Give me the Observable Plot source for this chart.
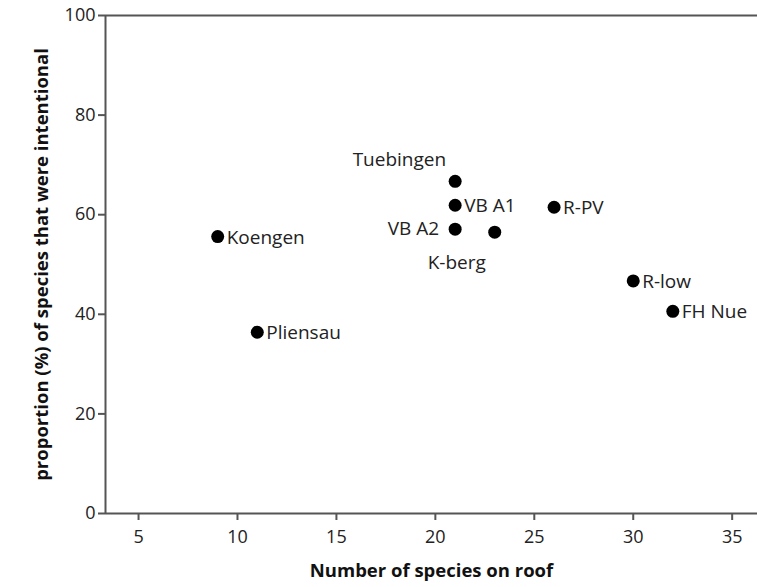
<!DOCTYPE html>
<html>
<head>
<meta charset="utf-8">
<script src="https://cdn.jsdelivr.net/npm/d3@7"></script>
<script src="https://cdn.jsdelivr.net/npm/@observablehq/plot@0.6"></script>
<style>
  html, body { margin: 0; padding: 0; background: #fff; }
  #chart svg { display: block; }
</style>
</head>
<body>
<div id="chart"></div>
<script>
const sites = ["Koengen", "Pliensau", "Tuebingen", "VB A1", "VB A2", "K-berg", "R-PV", "R-low", "FH Nue"];
const speciesCount = [9, 11, 21, 21, 21, 23, 26, 30, 32];
const proportionIntentional = [55.6, 36.4, 66.7, 61.9, 57.1, 56.5, 61.5, 46.7, 40.6];
const xTicks = [5, 10, 15, 20, 25, 30, 35];
const yTicks = [0, 20, 40, 60, 80, 100];

const data = sites.map((s, i) => ({site: s, x: speciesCount[i], y: proportionIntentional[i]}));
const rightLabels = ["Koengen", "Pliensau", "VB A1", "R-PV", "R-low", "FH Nue"];

const font = "'Open Sans', 'DejaVu Sans', sans-serif";
const axisColor = "#555";
const labelSize = 19;

const chart = Plot.plot({
  width: 757,
  height: 587,
  marginLeft: 105,
  marginRight: 0,
  marginTop: 15,
  marginBottom: 74,
  style: {fontFamily: font, fontSize: "18px", color: "#222", background: "#fff"},
  x: {domain: [3.33, 36.28], ticks: xTicks, label: null},
  y: {domain: [0, 100], ticks: yTicks, label: null},
  marks: [
    Plot.ruleY([0, 100], {stroke: axisColor, strokeWidth: 2}),
    Plot.ruleX([3.33], {stroke: axisColor, strokeWidth: 2}),
    Plot.axisX({ticks: xTicks, tickSize: 7, tickPadding: 10, stroke: axisColor, strokeWidth: 2, fontSize: 18, label: null}),
    Plot.axisY({ticks: yTicks, tickSize: 7, tickPadding: 3, stroke: axisColor, strokeWidth: 2, fontSize: 18, label: null}),
    Plot.dot(data, {x: "x", y: "y", r: 6.5, fill: "#000", stroke: "none"}),
    Plot.text(data.filter(d => rightLabels.includes(d.site)), {x: "x", y: "y", text: "site", textAnchor: "start", dx: 9, dy: 1, fontSize: labelSize, fill: "#222"}),
    Plot.text(data.filter(d => d.site === "VB A2"), {x: "x", y: "y", text: "site", textAnchor: "end", dx: -16, dy: 0, fontSize: labelSize, fill: "#222"}),
    Plot.text(data.filter(d => d.site === "Tuebingen"), {x: "x", y: "y", text: "site", textAnchor: "end", dx: -9, dy: -21, fontSize: labelSize, fill: "#222"}),
    Plot.text(data.filter(d => d.site === "K-berg"), {x: "x", y: "y", text: "site", textAnchor: "middle", dx: -38, dy: 31, fontSize: labelSize, fill: "#222"}),
    Plot.text(["Number of species on roof"], {frameAnchor: "bottom", textAnchor: "middle", dy: 63, fontWeight: "bold", fontSize: 18.5, fill: "#111"}),
    Plot.text(["proportion (%) of species that were intentional"], {frameAnchor: "left", textAnchor: "middle", dx: -63, rotate: -90, fontWeight: "bold", fontSize: 18.5, fill: "#111"})
  ]
});
document.getElementById("chart").appendChild(chart);
</script>
</body>
</html>
